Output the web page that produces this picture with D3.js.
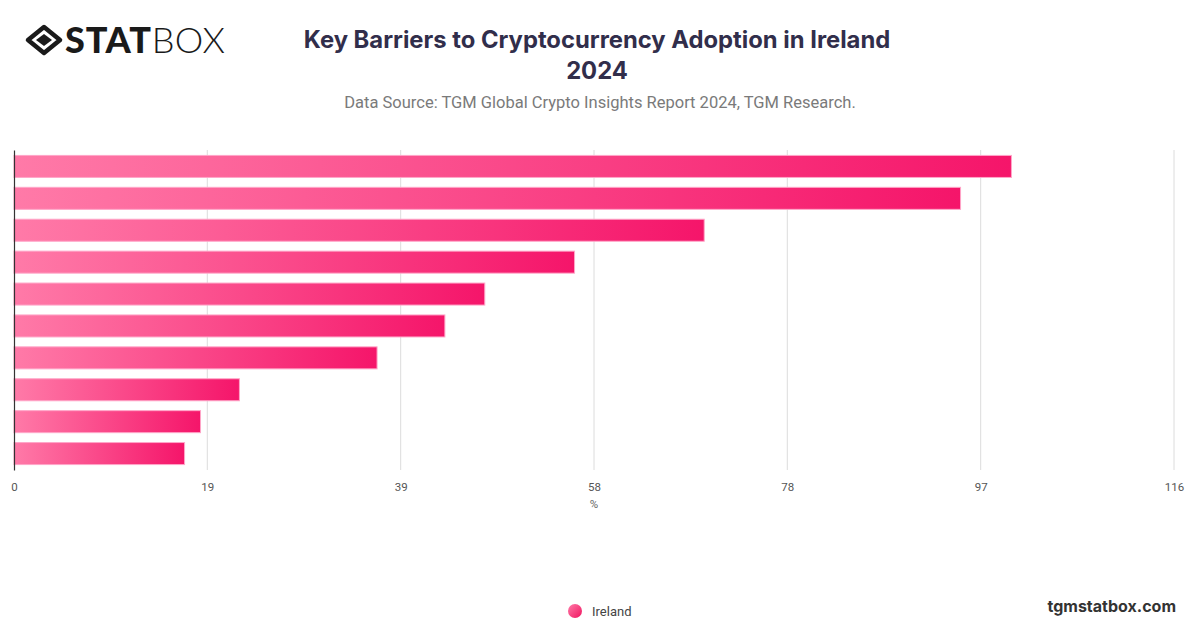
<!DOCTYPE html>
<html lang="en">

<head>
    <meta charset="UTF-8">
    <script src="https://d3js.org/d3.v7.min.js"></script>
    <title>Key Barriers to Cryptocurrency Adoption in Ireland 2024</title>
    <style>
        body {
            margin: 0;
            background: #fff;
        }
    </style>
</head>

<body>
    <div id="chart"></div>

    <script>

        // barrier categories (not labelled on the chart itself)
        const categories = ["Barrier 1", "Barrier 2", "Barrier 3", "Barrier 4", "Barrier 5",
            "Barrier 6", "Barrier 7", "Barrier 8", "Barrier 9", "Barrier 10"];
        // share of respondents, %
        const values = [100, 94.9, 69.2, 56.2, 47.2, 43.2, 36.4, 22.6, 18.7, 17.1];
        const axisMax = 116.3;
        const tickValues = [0, 19.38, 38.77, 58.15, 77.53, 96.92, 116.3];
        const seriesName = "Ireland";

        const W = 1200, H = 628;
        const margin = { top: 150, right: 26, bottom: 158, left: 14 };
        const width = W - margin.left - margin.right,
            height = H - margin.top - margin.bottom;

        const root = d3.select("#chart")
            .append("svg")
            .attr("width", W)
            .attr("height", H)
            .style("font-family", "Inter, Roboto, sans-serif");

        // gradients
        const defs = root.append("defs");
        const grad = defs.append("linearGradient")
            .attr("id", "barGrad")
            .attr("x1", "0%").attr("x2", "100%").attr("y1", "0%").attr("y2", "0%");
        grad.append("stop").attr("offset", "0%").attr("stop-color", "#ff7aa8");
        grad.append("stop").attr("offset", "100%").attr("stop-color", "#f5156a");

        const dotGrad = defs.append("linearGradient")
            .attr("id", "dotGrad")
            .attr("x1", "0%").attr("x2", "100%").attr("y1", "0%").attr("y2", "100%");
        dotGrad.append("stop").attr("offset", "0%").attr("stop-color", "#ff7aa8");
        dotGrad.append("stop").attr("offset", "100%").attr("stop-color", "#f0145f");

        // logo
        const logo = root.append("g").attr("transform", "translate(44,40)");
        logo.append("path")
            .attr("d", "M0,-13 L16,0 L0,13 L-16,0 Z")
            .attr("fill", "none")
            .attr("stroke", "#1a1a1a")
            .attr("stroke-width", 4.5)
            .attr("stroke-linejoin", "round");
        logo.append("path")
            .attr("d", "M0,-6 L8,0 L0,6 L-8,0 Z")
            .attr("fill", "#1a1a1a");
        root.append("text")
            .attr("x", 65).attr("y", 53)
            .attr("font-family", "Lato, 'DejaVu Sans', sans-serif")
            .attr("font-size", 36)
            .attr("fill", "#1a1a1a")
            .selectAll("tspan")
            .data([["STAT", 900], ["BOX", 300]])
            .join("tspan")
            .attr("font-weight", d => d[1])
            .attr("letter-spacing", d => d[1] > 500 ? 0.8 : 0.3)
            .text(d => d[0]);

        // title
        root.append("text")
            .attr("x", 597).attr("y", 48)
            .attr("text-anchor", "middle")
            .attr("font-size", 23.8)
            .attr("font-weight", 700)
            .attr("fill", "#312e4b")
            .text("Key Barriers to Cryptocurrency Adoption in Ireland");
        root.append("text")
            .attr("x", 597).attr("y", 79)
            .attr("text-anchor", "middle")
            .attr("font-size", 23.8)
            .attr("font-weight", 700)
            .attr("fill", "#312e4b")
            .text("2024");
        root.append("text")
            .attr("x", 600).attr("y", 108)
            .attr("text-anchor", "middle")
            .attr("font-family", "Roboto, sans-serif")
            .attr("font-size", 16.5)
            .attr("fill", "#7a7a7a")
            .text("Data Source: TGM Global Crypto Insights Report 2024, TGM Research.");

        const svg = root.append("g")
            .attr("transform", `translate(${margin.left},${margin.top})`);

        const x = d3.scaleLinear()
            .domain([0, axisMax])
            .range([0, width]);

        const y = d3.scaleBand()
            .domain(categories)
            .range([0, height])
            .paddingInner(0.31)
            .paddingOuter(0.17);

        // grid lines
        svg.append("g")
            .selectAll("line")
            .data(tickValues.slice(1))
            .join("line")
            .attr("x1", d => x(d)).attr("x2", d => x(d))
            .attr("y1", 0).attr("y2", height)
            .attr("stroke", "#dcdcdc")
            .attr("stroke-width", 1);

        // x axis (labels only)
        const xAxis = svg.append("g")
            .attr("transform", `translate(0,${height})`)
            .call(d3.axisBottom(x)
                .tickValues(tickValues)
                .tickFormat(d => Math.round(d))
                .tickSize(0)
                .tickPadding(13));
        xAxis.select(".domain").remove();
        xAxis.selectAll("text")
            .attr("font-family", "Roboto, sans-serif")
            .attr("font-size", 11.5)
            .attr("fill", "#555");

        svg.append("text")
            .attr("x", width / 2)
            .attr("y", height + 38)
            .attr("text-anchor", "middle")
            .attr("font-family", "Roboto, sans-serif")
            .attr("font-size", 11.5)
            .attr("fill", "#666")
            .text("%");

        // bars
        svg.append("g")
            .selectAll("rect")
            .data(values)
            .join("rect")
            .attr("x", x(0))
            .attr("y", (d, i) => y(categories[i]))
            .attr("width", d => x(d) - x(0))
            .attr("height", y.bandwidth())
            .attr("fill", "url(#barGrad)")
            .attr("stroke", "#ffa6c8")
            .attr("stroke-width", 1);

        // y axis line
        const yAxis = svg.append("g")
            .call(d3.axisLeft(y).tickSize(0).tickFormat(""));
        yAxis.select(".domain")
            .attr("stroke", "#333")
            .attr("stroke-width", 1.2);

        // legend
        const legend = root.append("g").attr("transform", "translate(575,611)");
        legend.append("circle")
            .attr("r", 7)
            .attr("fill", "url(#dotGrad)");
        legend.append("text")
            .attr("x", 17).attr("y", 4.5)
            .attr("font-family", "Roboto, sans-serif")
            .attr("font-size", 13)
            .attr("fill", "#444")
            .text(seriesName);

        // watermark
        root.append("text")
            .attr("x", 1176).attr("y", 612)
            .attr("text-anchor", "end")
            .attr("font-size", 16)
            .attr("font-weight", 700)
            .attr("fill", "#333")
            .text("tgmstatbox.com");

    </script>
</body>

</html>
